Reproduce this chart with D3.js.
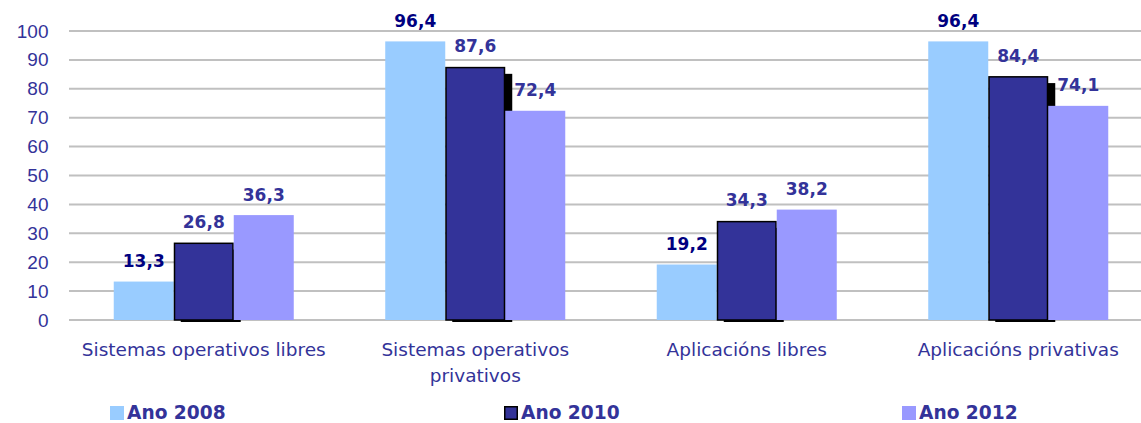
<!DOCTYPE html>
<html>
  <head>
    <meta charset="utf-8">
    <title>Software libre e privativo</title>
    <script src="https://d3js.org/d3.v7.min.js"></script>
    <style>
      body { margin: 0; background: white; }
      svg { display: block; font-family: "DejaVu Sans", Verdana, sans-serif; }
      .grid line { stroke: #c0c0c0; stroke-width: 2; }
      .tick text { fill: #333399; font-size: 19px; }
      .catLabel { fill: #333399; font-size: 18.5px; }
      .value { font-size: 17px; font-weight: bold; text-anchor: middle; }
      .legend text { fill: #333399; font-size: 18.6px; font-weight: bold; }
    </style>
  </head>
  <body>
    <svg id="chart" width="1141" height="423"></svg>
    <script>
      // data
      categories = ["Sistemas operativos libres", "Sistemas operativos privativos", "Aplicacións libres", "Aplicacións privativas"];
      series = ["Ano 2008", "Ano 2010", "Ano 2012"];
      values2008 = [13.3, 96.4, 19.2, 96.4];
      values2010 = [26.8, 87.6, 34.3, 84.4];
      values2012 = [36.3, 72.4, 38.2, 74.1];
      yTicks = [0, 10, 20, 30, 40, 50, 60, 70, 80, 90, 100];

      // styles
      fills = ["#99ccff", "#333399", "#9999ff"];
      labelColors = ["#000080", "#333399", "#333399"];

      svg = d3.select("#chart");
      allValues = [values2008, values2010, values2012];

      y = d3.scaleLinear().domain([0, 100]).range([320, 31]);
      x0 = d3.scaleBand()
        .domain(categories)
        .range([68, 1154])
        .paddingInner(0.337)
        .paddingOuter(0.1685);
      x1 = d3.scaleBand()
        .domain(series)
        .range([0, x0.bandwidth()]);

      // gridlines + y labels
      grid = svg.append("g").attr("class", "grid");
      grid.selectAll("line")
          .data(yTicks)
        .enter().append("line")
          .attr("x1", 69)
          .attr("x2", 1141)
          .attr("y1", function(d) { return y(d); })
          .attr("y2", function(d) { return y(d); });
      svg.append("g")
          .attr("transform", "translate(50,0)")
          .call(d3.axisLeft(y).tickValues(yTicks).tickSize(0).tickPadding(1.5))
          .call(function(g) { g.select(".domain").remove(); })
          .selectAll("text")
            .attr("font-family", null)
            .attr("font-size", null);

      // bars
      bars = svg.append("g");
      series.forEach(function(s, si) {
        groups = bars.append("g").attr("class", "series" + si);
        groups.selectAll("g")
            .data(categories)
          .enter().append("g")
            .attr("transform", function(c) { return "translate(" + (x0(c) + x1(s)) + ",0)"; })
            .each(function(c, i) {
              let g = d3.select(this);
              let v = allValues[si][i];
              if (si === 1) {
                // drop shadow behind the 2010 bars
                g.append("rect")
                  .attr("x", 7)
                  .attr("y", y(v) + 7)
                  .attr("width", x1.bandwidth())
                  .attr("height", y(0) - y(v) - 5)
                  .attr("fill", "black");
                g.append("rect")
                  .attr("x", 0.75)
                  .attr("y", y(v) + 0.75)
                  .attr("width", x1.bandwidth() - 1.5)
                  .attr("height", y(0) - y(v) - 0.75)
                  .attr("fill", fills[si])
                  .attr("stroke", "black")
                  .attr("stroke-width", 1.5);
              } else {
                g.append("rect")
                  .attr("x", 0)
                  .attr("y", y(v))
                  .attr("width", x1.bandwidth())
                  .attr("height", y(0) - y(v))
                  .attr("fill", fills[si]);
              }
            });
      });

      // value labels
      series.forEach(function(s, si) {
        svg.append("g").selectAll("text")
            .data(allValues[si])
          .enter().append("text")
            .attr("class", "value")
            .attr("fill", labelColors[si])
            .attr("x", function(d, i) { return x0(categories[i]) + x1(s) + x1.bandwidth() / 2; })
            .attr("y", function(d) { return y(d) - 14.5; })
            .text(function(d) { return d3.format(".1f")(d).replace(".", ","); });
      });

      // category labels, wrapped
      cats = svg.append("g");
      categories.forEach(function(c) {
        let cx = x0(c) + x0.bandwidth() / 2;
        let t = cats.append("text")
          .attr("class", "catLabel")
          .attr("text-anchor", "middle")
          .attr("x", cx)
          .attr("y", 356);
        let words = c.split(" ");
        let line = [];
        let tspan = t.append("tspan").attr("x", cx).attr("dy", 0);
        words.forEach(function(w) {
          line.push(w);
          tspan.text(line.join(" "));
          if (tspan.node().getComputedTextLength() > 258 && line.length > 1) {
            line.pop();
            tspan.text(line.join(" "));
            line = [w];
            tspan = t.append("tspan")
              .attr("x", cx)
              .attr("dy", 26)
              .text(w);
          }
        });
      });

      // legend
      legendX = [110, 504, 902];
      legend = svg.append("g").attr("class", "legend");
      series.forEach(function(s, si) {
        let g = legend.append("g").attr("transform", "translate(" + legendX[si] + ",406)");
        g.append("rect")
          .attr("x", si === 1 ? 0.75 : 0)
          .attr("y", si === 1 ? 0.75 : 0)
          .attr("width", si === 1 ? 12.5 : 14)
          .attr("height", si === 1 ? 12.5 : 14)
          .attr("fill", fills[si])
          .attr("stroke", si === 1 ? "black" : "none")
          .attr("stroke-width", 1.5);
        g.append("text")
          .attr("x", 17)
          .attr("y", 12.5)
          .text(s);
      });
    </script>
  </body>
</html>
